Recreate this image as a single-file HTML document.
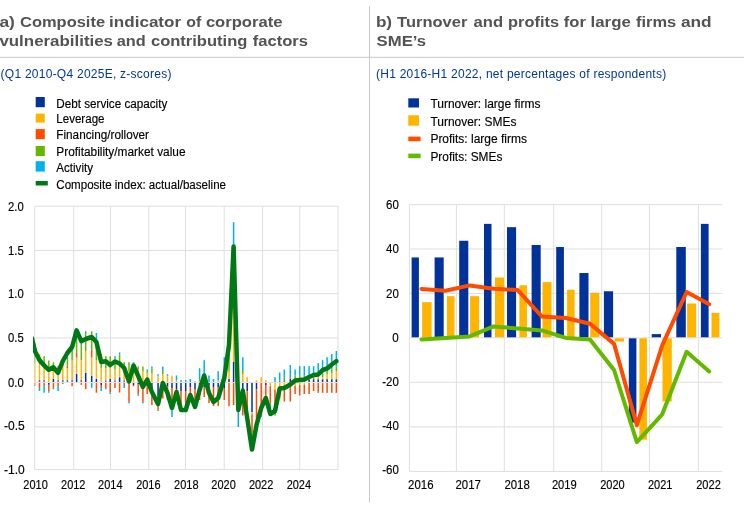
<!DOCTYPE html>
<html lang="en"><head><meta charset="utf-8"><title>Corporate vulnerabilities and firm turnover</title>
<style>
html,body{margin:0;padding:0;background:#fff;}
body{width:744px;height:506px;overflow:hidden;}
svg{display:block;font-family:"Liberation Sans",sans-serif;}
.t{font-weight:bold;font-size:14.8px;fill:#535353;}
.s{font-size:12px;fill:#003894;letter-spacing:0.25px;}
.l{font-size:12px;fill:#000;stroke:#000;stroke-width:0.15px;}
.a{font-size:12px;fill:#000;stroke:#000;stroke-width:0.15px;}
.g{stroke:#dfdfdf;stroke-width:1;fill:none;}
</style></head><body>
<svg width="744" height="506" viewBox="0 0 744 506">
<rect width="744" height="506" fill="#fff"/>
<defs><clipPath id="lc"><rect x="33.1" y="200" width="306" height="275"/></clipPath></defs>
<line x1="0" y1="57.3" x2="744" y2="57.3" stroke="#c8c8c8" stroke-width="1"/>
<line x1="369.5" y1="6" x2="369.5" y2="502.5" stroke="#c8c8c8" stroke-width="1"/>
<text class="t" y="27.2"><tspan x="-0.6" textLength="15.5" lengthAdjust="spacingAndGlyphs">a)</tspan> <tspan x="20" textLength="85.1" lengthAdjust="spacingAndGlyphs">Composite</tspan> <tspan x="109.1" textLength="72" lengthAdjust="spacingAndGlyphs">indicator</tspan> <tspan x="186.2" textLength="15" lengthAdjust="spacingAndGlyphs">of</tspan> <tspan x="205.9" textLength="76.5" lengthAdjust="spacingAndGlyphs">corporate</tspan></text>
<text class="t" y="45.5"><tspan x="-0.6" textLength="113.6" lengthAdjust="spacingAndGlyphs">vulnerabilities</tspan> <tspan x="116.7" textLength="29" lengthAdjust="spacingAndGlyphs">and</tspan> <tspan x="151" textLength="96.3" lengthAdjust="spacingAndGlyphs">contributing</tspan> <tspan x="252.7" textLength="55.3" lengthAdjust="spacingAndGlyphs">factors</tspan></text>
<text class="t" y="27.2"><tspan x="375.9" textLength="16.2" lengthAdjust="spacingAndGlyphs">b)</tspan> <tspan x="397.1" textLength="70.3" lengthAdjust="spacingAndGlyphs">Turnover</tspan> <tspan x="473.6" textLength="29.5" lengthAdjust="spacingAndGlyphs">and</tspan> <tspan x="508.1" textLength="50.9" lengthAdjust="spacingAndGlyphs">profits</tspan> <tspan x="563.8" textLength="22.1" lengthAdjust="spacingAndGlyphs">for</tspan> <tspan x="590.6" textLength="40.2" lengthAdjust="spacingAndGlyphs">large</tspan> <tspan x="636" textLength="40.2" lengthAdjust="spacingAndGlyphs">firms</tspan> <tspan x="680.9" textLength="30.7" lengthAdjust="spacingAndGlyphs">and</tspan></text>
<text class="t" y="45.5"><tspan x="376.6" textLength="49.5" lengthAdjust="spacingAndGlyphs">SME’s</tspan></text>
<text class="s" x="0.6" y="78">(Q1 2010-Q4 2025E, z-scores)</text>
<text class="s" x="376" y="78">(H1 2016-H1 2022, net percentages of respondents)</text>
<rect x="35.7" y="97" width="9.1" height="10.2" fill="#003299"/>
<text class="l" x="56.3" y="107.6" textLength="111" lengthAdjust="spacingAndGlyphs">Debt service capacity</text>
<rect x="35.7" y="113.6" width="9.1" height="9" fill="#FFB400"/>
<text class="l" x="56.3" y="122.8" textLength="48.2" lengthAdjust="spacingAndGlyphs">Leverage</text>
<rect x="35.7" y="129.1" width="9.1" height="10.1" fill="#FF4B00"/>
<text class="l" x="56.3" y="139.2" textLength="92.7" lengthAdjust="spacingAndGlyphs">Financing/rollover</text>
<rect x="35.7" y="146" width="9.1" height="10.1" fill="#65B800"/>
<text class="l" x="56.3" y="156.1" textLength="129.2" lengthAdjust="spacingAndGlyphs">Profitability/market value</text>
<rect x="35.7" y="161.2" width="9.1" height="10.4" fill="#00B1EA"/>
<text class="l" x="56.3" y="171.6" textLength="36.7" lengthAdjust="spacingAndGlyphs">Activity</text>
<rect x="35.7" y="181" width="12.1" height="4.5" fill="#007816"/>
<text class="l" x="56.3" y="188.5" textLength="169.7" lengthAdjust="spacingAndGlyphs">Composite index: actual/baseline</text>
<g class="g">
<line x1="34.5" y1="206.2" x2="338.3" y2="206.2"/>
<line x1="34.5" y1="250.5" x2="338.3" y2="250.5"/>
<line x1="34.5" y1="293.6" x2="338.3" y2="293.6"/>
<line x1="34.5" y1="337.95" x2="338.3" y2="337.95"/>
<line x1="34.5" y1="382.4" x2="338.3" y2="382.4"/>
<line x1="34.5" y1="426.9" x2="338.3" y2="426.9"/>
<line x1="34.5" y1="469.5" x2="338.3" y2="469.5"/>
<line x1="34.7" y1="206.2" x2="34.7" y2="469.5"/>
<line x1="73.7" y1="206.2" x2="73.7" y2="469.5"/>
<line x1="110.5" y1="206.2" x2="110.5" y2="469.5"/>
<line x1="148.8" y1="206.2" x2="148.8" y2="469.5"/>
<line x1="185.5" y1="206.2" x2="185.5" y2="469.5"/>
<line x1="224.2" y1="206.2" x2="224.2" y2="469.5"/>
<line x1="262.6" y1="206.2" x2="262.6" y2="469.5"/>
<line x1="299.8" y1="206.2" x2="299.8" y2="469.5"/>
<line x1="338" y1="206.2" x2="338" y2="469.5"/>
</g>
<g shape-rendering="auto">
<g opacity="0.5">
<rect x="34.15" y="363" width="1.5" height="19" fill="#FFB400"/>
<rect x="34.15" y="353" width="1.5" height="10" fill="#65B800"/>
<rect x="34.15" y="383" width="1.5" height="3" fill="#FF4B00"/>
</g>
<g>
<rect x="38.75" y="380" width="1.5" height="2" fill="#003299" opacity="0.7"/>
<rect x="38.75" y="364" width="1.5" height="16" fill="#FFB400"/>
<rect x="38.75" y="354.5" width="1.5" height="9.5" fill="#65B800"/>
<rect x="38.75" y="383" width="1.5" height="5" fill="#FF4B00"/>
<rect x="38.75" y="388" width="1.5" height="3" fill="#00B1EA"/>
</g>
<g>
<rect x="43.35" y="380" width="1.5" height="2" fill="#003299" opacity="0.7"/>
<rect x="43.35" y="366" width="1.5" height="14" fill="#FFB400"/>
<rect x="43.35" y="356.2" width="1.5" height="9.8" fill="#65B800"/>
<rect x="43.35" y="383" width="1.5" height="3.2" fill="#FF4B00"/>
<rect x="43.35" y="386.2" width="1.5" height="6.5" fill="#00B1EA"/>
</g>
<g>
<rect x="48.05" y="369" width="1.5" height="13" fill="#FFB400"/>
<rect x="48.05" y="360.5" width="1.5" height="8.5" fill="#65B800"/>
<rect x="48.05" y="383" width="1.5" height="1.8" fill="#003299"/>
<rect x="48.05" y="384.8" width="1.5" height="6.5" fill="#FF4B00"/>
<rect x="48.05" y="391.3" width="1.5" height="1.4" fill="#00B1EA"/>
</g>
<g>
<rect x="52.65" y="379" width="1.5" height="3" fill="#003299"/>
<rect x="52.65" y="368" width="1.5" height="11" fill="#FFB400"/>
<rect x="52.65" y="362.2" width="1.5" height="5.8" fill="#65B800"/>
<rect x="52.65" y="383" width="1.5" height="4.8" fill="#FF4B00"/>
<rect x="52.65" y="387.8" width="1.5" height="1.4" fill="#00B1EA"/>
</g>
<g>
<rect x="57.35" y="380" width="1.5" height="2" fill="#003299" opacity="0.7"/>
<rect x="57.35" y="372" width="1.5" height="8" fill="#FFB400"/>
<rect x="57.35" y="366" width="1.5" height="6" fill="#65B800"/>
<rect x="57.35" y="383" width="1.5" height="3.2" fill="#FF4B00"/>
<rect x="57.35" y="386.2" width="1.5" height="4.8" fill="#00B1EA"/>
</g>
<g>
<rect x="62.05" y="380" width="1.5" height="2" fill="#003299" opacity="0.7"/>
<rect x="62.05" y="366" width="1.5" height="14" fill="#FFB400"/>
<rect x="62.05" y="360" width="1.5" height="6" fill="#65B800"/>
<rect x="62.05" y="383" width="1.5" height="1" fill="#FF4B00"/>
</g>
<g>
<rect x="66.65" y="380" width="1.5" height="2" fill="#003299" opacity="0.7"/>
<rect x="66.65" y="368" width="1.5" height="12" fill="#FFB400"/>
<rect x="66.65" y="367" width="1.5" height="1" fill="#FF4B00"/>
<rect x="66.65" y="359" width="1.5" height="8" fill="#65B800"/>
<rect x="66.65" y="357" width="1.5" height="2" fill="#00B1EA"/>
</g>
<g>
<rect x="71.35" y="380" width="1.5" height="2" fill="#003299" opacity="0.7"/>
<rect x="71.35" y="360.5" width="1.5" height="19.5" fill="#FFB400"/>
<rect x="71.35" y="351" width="1.5" height="9.5" fill="#65B800"/>
<rect x="71.35" y="350" width="1.5" height="1" fill="#00B1EA"/>
<rect x="71.35" y="383" width="1.5" height="3.2" fill="#FF4B00"/>
</g>
<g>
<rect x="75.85" y="374" width="1.5" height="8" fill="#003299"/>
<rect x="75.85" y="357.5" width="1.5" height="16.5" fill="#FFB400"/>
<rect x="75.85" y="353" width="1.5" height="4.5" fill="#FF4B00"/>
<rect x="75.85" y="340" width="1.5" height="13" fill="#65B800"/>
<rect x="75.85" y="338" width="1.5" height="2" fill="#00B1EA"/>
</g>
<g>
<rect x="80.55" y="380" width="1.5" height="2" fill="#003299" opacity="0.7"/>
<rect x="80.55" y="360.5" width="1.5" height="19.5" fill="#FFB400"/>
<rect x="80.55" y="345" width="1.5" height="15.5" fill="#65B800"/>
<rect x="80.55" y="343" width="1.5" height="2" fill="#00B1EA"/>
<rect x="80.55" y="383" width="1.5" height="1.8" fill="#FF4B00"/>
</g>
<g>
<rect x="84.95" y="372.8" width="1.5" height="9.2" fill="#003299"/>
<rect x="84.95" y="351" width="1.5" height="21.8" fill="#FFB400"/>
<rect x="84.95" y="333" width="1.5" height="18" fill="#65B800"/>
<rect x="84.95" y="331.2" width="1.5" height="1.8" fill="#00B1EA"/>
<rect x="84.95" y="383" width="1.5" height="6.2" fill="#FF4B00"/>
</g>
<g>
<rect x="90.95" y="375.7" width="1.5" height="6.3" fill="#003299"/>
<rect x="90.95" y="357.5" width="1.5" height="18.2" fill="#FFB400"/>
<rect x="90.95" y="350" width="1.5" height="7.5" fill="#FF4B00"/>
<rect x="90.95" y="331.2" width="1.5" height="18.8" fill="#65B800"/>
<rect x="90.95" y="383" width="1.5" height="4.8" fill="#00B1EA"/>
</g>
<g>
<rect x="95.65" y="379" width="1.5" height="3" fill="#003299"/>
<rect x="95.65" y="360.5" width="1.5" height="18.5" fill="#FFB400"/>
<rect x="95.65" y="339" width="1.5" height="21.5" fill="#65B800"/>
<rect x="95.65" y="333" width="1.5" height="6" fill="#00B1EA"/>
<rect x="95.65" y="383" width="1.5" height="9.7" fill="#FF4B00"/>
</g>
<g>
<rect x="100.45" y="368" width="1.5" height="14" fill="#FFB400"/>
<rect x="100.45" y="354" width="1.5" height="14" fill="#65B800"/>
<rect x="100.45" y="383" width="1.5" height="2" fill="#003299"/>
<rect x="100.45" y="385" width="1.5" height="3" fill="#FF4B00"/>
<rect x="100.45" y="388" width="1.5" height="3" fill="#00B1EA"/>
</g>
<g>
<rect x="105.05" y="380.2" width="1.5" height="1.8" fill="#003299" opacity="0.7"/>
<rect x="105.05" y="368" width="1.5" height="12.2" fill="#FFB400"/>
<rect x="105.05" y="356.2" width="1.5" height="11.8" fill="#65B800"/>
<rect x="105.05" y="383" width="1.5" height="5" fill="#FF4B00"/>
<rect x="105.05" y="388" width="1.5" height="1.3" fill="#00B1EA"/>
</g>
<g>
<rect x="109.45" y="379" width="1.5" height="3" fill="#003299"/>
<rect x="109.45" y="368" width="1.5" height="11" fill="#FFB400"/>
<rect x="109.45" y="356.2" width="1.5" height="11.8" fill="#65B800"/>
<rect x="109.45" y="383" width="1.5" height="9.5" fill="#FF4B00"/>
<rect x="109.45" y="392.5" width="1.5" height="1.5" fill="#00B1EA"/>
</g>
<g>
<rect x="114.25" y="380.2" width="1.5" height="1.8" fill="#003299" opacity="0.7"/>
<rect x="114.25" y="369.5" width="1.5" height="10.7" fill="#FFB400"/>
<rect x="114.25" y="358.5" width="1.5" height="11" fill="#65B800"/>
<rect x="114.25" y="356.2" width="1.5" height="2.3" fill="#00B1EA"/>
<rect x="114.25" y="383" width="1.5" height="5" fill="#FF4B00"/>
</g>
<g>
<rect x="118.85" y="377.2" width="1.5" height="4.8" fill="#003299"/>
<rect x="118.85" y="367" width="1.5" height="10.2" fill="#FFB400"/>
<rect x="118.85" y="354.2" width="1.5" height="12.8" fill="#65B800"/>
<rect x="118.85" y="352.5" width="1.5" height="1.7" fill="#00B1EA"/>
<rect x="118.85" y="383" width="1.5" height="9.5" fill="#FF4B00"/>
</g>
<g>
<rect x="123.45" y="380.2" width="1.5" height="1.8" fill="#003299" opacity="0.7"/>
<rect x="123.45" y="370" width="1.5" height="10.2" fill="#FFB400"/>
<rect x="123.45" y="362.2" width="1.5" height="7.8" fill="#65B800"/>
<rect x="123.45" y="383" width="1.5" height="2" fill="#FF4B00"/>
<rect x="123.45" y="385" width="1.5" height="3" fill="#00B1EA"/>
</g>
<g>
<rect x="128.25" y="371" width="1.5" height="11" fill="#FFB400"/>
<rect x="128.25" y="362.2" width="1.5" height="8.8" fill="#65B800"/>
<rect x="128.25" y="383" width="1.5" height="18.8" fill="#FF4B00"/>
<rect x="128.25" y="401.8" width="1.5" height="1.5" fill="#00B1EA"/>
</g>
<g>
<rect x="132.75" y="370" width="1.5" height="12" fill="#FFB400"/>
<rect x="132.75" y="363.5" width="1.5" height="6.5" fill="#65B800"/>
<rect x="132.75" y="362.2" width="1.5" height="1.3" fill="#00B1EA"/>
<rect x="132.75" y="383" width="1.5" height="2" fill="#003299"/>
<rect x="132.75" y="385" width="1.5" height="1.2" fill="#FF4B00"/>
</g>
<g>
<rect x="137.45" y="369.5" width="1.5" height="12.5" fill="#FFB400"/>
<rect x="137.45" y="366.5" width="1.5" height="3" fill="#65B800"/>
<rect x="137.45" y="383" width="1.5" height="1.5" fill="#003299"/>
<rect x="137.45" y="384.5" width="1.5" height="9.7" fill="#FF4B00"/>
<rect x="137.45" y="394.2" width="1.5" height="1.6" fill="#00B1EA"/>
</g>
<g>
<rect x="142.15" y="371" width="1.5" height="11" fill="#FFB400"/>
<rect x="142.15" y="366.5" width="1.5" height="4.5" fill="#65B800"/>
<rect x="142.15" y="383" width="1.5" height="18.8" fill="#FF4B00"/>
<rect x="142.15" y="401.8" width="1.5" height="1.5" fill="#00B1EA"/>
</g>
<g>
<rect x="146.45" y="373" width="1.5" height="9" fill="#FFB400"/>
<rect x="146.45" y="371.5" width="1.5" height="1.5" fill="#65B800"/>
<rect x="146.45" y="369.5" width="1.5" height="2" fill="#00B1EA"/>
<rect x="146.45" y="383" width="1.5" height="3" fill="#003299"/>
<rect x="146.45" y="386" width="1.5" height="8" fill="#FF4B00"/>
</g>
<g>
<rect x="151.15" y="373" width="1.5" height="9" fill="#FFB400"/>
<rect x="151.15" y="368.5" width="1.5" height="4.5" fill="#65B800"/>
<rect x="151.15" y="366.5" width="1.5" height="2" fill="#00B1EA"/>
<rect x="151.15" y="383" width="1.5" height="11" fill="#003299"/>
<rect x="151.15" y="394" width="1.5" height="11" fill="#FF4B00"/>
</g>
<g>
<rect x="157.3" y="375.8" width="1.5" height="6.2" fill="#FFB400"/>
<rect x="157.3" y="374.2" width="1.5" height="1.6" fill="#00B1EA"/>
<rect x="157.3" y="383" width="1.5" height="13" fill="#003299"/>
<rect x="157.3" y="396" width="1.5" height="13" fill="#FF4B00"/>
<rect x="157.3" y="409" width="1.5" height="2" fill="#65B800"/>
</g>
<g>
<rect x="162.05" y="374" width="1.5" height="8" fill="#FFB400"/>
<rect x="162.05" y="371" width="1.5" height="3" fill="#65B800"/>
<rect x="162.05" y="366.5" width="1.5" height="4.5" fill="#00B1EA"/>
<rect x="162.05" y="383" width="1.5" height="3" fill="#003299"/>
<rect x="162.05" y="386" width="1.5" height="12.5" fill="#FF4B00"/>
</g>
<g>
<rect x="166.75" y="375.8" width="1.5" height="6.2" fill="#FFB400"/>
<rect x="166.75" y="374.2" width="1.5" height="1.6" fill="#00B1EA"/>
<rect x="166.75" y="383" width="1.5" height="3.2" fill="#003299"/>
<rect x="166.75" y="386.2" width="1.5" height="13.8" fill="#FF4B00"/>
</g>
<g>
<rect x="171.25" y="375.5" width="1.5" height="6.5" fill="#FFB400"/>
<rect x="171.25" y="383" width="1.5" height="5" fill="#003299"/>
<rect x="171.25" y="388" width="1.5" height="22.3" fill="#FF4B00"/>
<rect x="171.25" y="410.3" width="1.5" height="6.7" fill="#00B1EA"/>
</g>
<g>
<rect x="175.75" y="380.5" width="1.5" height="1.5" fill="#FFB400"/>
<rect x="175.75" y="375.5" width="1.5" height="5" fill="#00B1EA"/>
<rect x="175.75" y="383" width="1.5" height="6" fill="#003299"/>
<rect x="175.75" y="389" width="1.5" height="11" fill="#FF4B00"/>
</g>
<g>
<rect x="180.25" y="381" width="1.5" height="1" fill="#65B800"/>
<rect x="180.25" y="380" width="1.5" height="1" fill="#00B1EA"/>
<rect x="180.25" y="383" width="1.5" height="8" fill="#003299"/>
<rect x="180.25" y="391" width="1.5" height="17" fill="#FF4B00"/>
</g>
<g>
<rect x="184.95" y="381" width="1.5" height="1" fill="#65B800"/>
<rect x="184.95" y="380" width="1.5" height="1" fill="#00B1EA"/>
<rect x="184.95" y="383" width="1.5" height="8" fill="#003299"/>
<rect x="184.95" y="391" width="1.5" height="17" fill="#FF4B00"/>
</g>
<g>
<rect x="189.55" y="379" width="1.5" height="3" fill="#00B1EA"/>
<rect x="189.55" y="383" width="1.5" height="4.5" fill="#003299"/>
<rect x="189.55" y="387.5" width="1.5" height="8.5" fill="#FF4B00"/>
</g>
<g>
<rect x="194.25" y="381.5" width="1.5" height="0.5" fill="#00B1EA"/>
<rect x="194.25" y="383" width="1.5" height="6" fill="#003299"/>
<rect x="194.25" y="389" width="1.5" height="14" fill="#FF4B00"/>
</g>
<g>
<rect x="198.85" y="381" width="1.5" height="1" fill="#FFB400"/>
<rect x="198.85" y="379" width="1.5" height="2" fill="#65B800"/>
<rect x="198.85" y="368.2" width="1.5" height="10.8" fill="#00B1EA"/>
<rect x="198.85" y="383" width="1.5" height="4" fill="#003299"/>
<rect x="198.85" y="387" width="1.5" height="13" fill="#FF4B00"/>
</g>
<g>
<rect x="203.45" y="360.2" width="1.5" height="21.8" fill="#00B1EA"/>
<rect x="203.45" y="383" width="1.5" height="4.5" fill="#003299"/>
<rect x="203.45" y="387.5" width="1.5" height="9.5" fill="#FF4B00"/>
</g>
<g>
<rect x="208.25" y="375.5" width="1.5" height="6.5" fill="#00B1EA"/>
<rect x="208.25" y="383" width="1.5" height="2" fill="#003299"/>
<rect x="208.25" y="385" width="1.5" height="18" fill="#FF4B00"/>
</g>
<g>
<rect x="212.75" y="379" width="1.5" height="3" fill="#00B1EA"/>
<rect x="212.75" y="383" width="1.5" height="4.5" fill="#003299"/>
<rect x="212.75" y="387.5" width="1.5" height="18.5" fill="#FF4B00"/>
</g>
<g>
<rect x="217.45" y="380.5" width="1.5" height="1.5" fill="#FFB400"/>
<rect x="217.45" y="371.2" width="1.5" height="9.3" fill="#00B1EA"/>
<rect x="217.45" y="383" width="1.5" height="4.5" fill="#003299"/>
<rect x="217.45" y="387.5" width="1.5" height="17.5" fill="#FF4B00"/>
<rect x="217.45" y="405" width="1.5" height="1.2" fill="#65B800"/>
</g>
<g>
<rect x="223.55" y="380.5" width="1.5" height="1.5" fill="#FFB400"/>
<rect x="223.55" y="357.2" width="1.5" height="23.3" fill="#00B1EA"/>
<rect x="223.55" y="383" width="1.5" height="5" fill="#003299"/>
<rect x="223.55" y="388" width="1.5" height="12" fill="#FF4B00"/>
</g>
<g>
<rect x="228.25" y="379" width="1.5" height="3" fill="#003299"/>
<rect x="228.25" y="371" width="1.5" height="8" fill="#FFB400"/>
<rect x="228.25" y="356" width="1.5" height="15" fill="#65B800"/>
<rect x="228.25" y="352" width="1.5" height="4" fill="#00B1EA"/>
<rect x="228.25" y="383" width="1.5" height="23.2" fill="#FF4B00"/>
</g>
<g>
<rect x="232.85" y="362" width="1.5" height="20" fill="#003299"/>
<rect x="232.85" y="300" width="1.5" height="62" fill="#FFB400"/>
<rect x="232.85" y="270" width="1.5" height="30" fill="#65B800"/>
<rect x="232.85" y="222.2" width="1.5" height="47.8" fill="#00B1EA"/>
<rect x="232.85" y="383" width="1.5" height="22" fill="#FF4B00"/>
</g>
<g>
<rect x="237.55" y="370" width="1.5" height="12" fill="#FFB400"/>
<rect x="237.55" y="383" width="1.5" height="7" fill="#003299"/>
<rect x="237.55" y="390" width="1.5" height="20" fill="#FF4B00"/>
<rect x="237.55" y="410" width="1.5" height="17" fill="#00B1EA"/>
</g>
<g>
<rect x="242.05" y="374.2" width="1.5" height="7.8" fill="#FFB400"/>
<rect x="242.05" y="370" width="1.5" height="4.2" fill="#65B800"/>
<rect x="242.05" y="357.2" width="1.5" height="12.8" fill="#00B1EA"/>
<rect x="242.05" y="383" width="1.5" height="6" fill="#003299"/>
<rect x="242.05" y="389" width="1.5" height="26.5" fill="#FF4B00"/>
</g>
<g>
<rect x="246.45" y="377.2" width="1.5" height="4.8" fill="#FFB400"/>
<rect x="246.45" y="383" width="1.5" height="8.2" fill="#003299"/>
<rect x="246.45" y="391.2" width="1.5" height="28.8" fill="#FF4B00"/>
</g>
<g>
<rect x="251.25" y="383" width="1.5" height="29.2" fill="#003299"/>
<rect x="251.25" y="412.2" width="1.5" height="2" fill="#FFB400"/>
<rect x="251.25" y="414.2" width="1.5" height="17.8" fill="#FF4B00"/>
<rect x="251.25" y="432" width="1.5" height="3" fill="#65B800"/>
</g>
<g>
<rect x="255.75" y="380.2" width="1.5" height="1.8" fill="#FFB400"/>
<rect x="255.75" y="383" width="1.5" height="6.5" fill="#003299"/>
<rect x="255.75" y="389.5" width="1.5" height="28.5" fill="#FF4B00"/>
<rect x="255.75" y="418" width="1.5" height="3" fill="#00B1EA"/>
</g>
<g>
<rect x="260.45" y="377.2" width="1.5" height="4.8" fill="#FFB400"/>
<rect x="260.45" y="383" width="1.5" height="32" fill="#FF4B00"/>
<rect x="260.45" y="415" width="1.5" height="2" fill="#00B1EA"/>
</g>
<g>
<rect x="265.05" y="380.2" width="1.5" height="1.8" fill="#FFB400"/>
<rect x="265.05" y="383" width="1.5" height="2" fill="#003299"/>
<rect x="265.05" y="385" width="1.5" height="15" fill="#FF4B00"/>
</g>
<g>
<rect x="269.55" y="383" width="1.5" height="3.2" fill="#FFB400"/>
<rect x="269.55" y="386.2" width="1.5" height="16.8" fill="#FF4B00"/>
<rect x="269.55" y="403" width="1.5" height="2" fill="#65B800"/>
<rect x="269.55" y="405" width="1.5" height="3" fill="#00B1EA"/>
</g>
<g>
<rect x="274.25" y="377.2" width="1.5" height="4.8" fill="#00B1EA"/>
<rect x="274.25" y="383" width="1.5" height="6.5" fill="#FFB400"/>
<rect x="274.25" y="389.5" width="1.5" height="24.5" fill="#FF4B00"/>
<rect x="274.25" y="414" width="1.5" height="1.5" fill="#65B800"/>
</g>
<g>
<rect x="278.95" y="381" width="1.5" height="1" fill="#003299" opacity="0.7"/>
<rect x="278.95" y="380.2" width="1.5" height="0.8" fill="#65B800"/>
<rect x="278.95" y="372.5" width="1.5" height="7.7" fill="#00B1EA"/>
<rect x="278.95" y="383" width="1.5" height="3.2" fill="#FFB400"/>
<rect x="278.95" y="386.2" width="1.5" height="12.3" fill="#FF4B00"/>
</g>
<g>
<rect x="283.55" y="380.2" width="1.5" height="1.8" fill="#003299" opacity="0.7"/>
<rect x="283.55" y="377.2" width="1.5" height="3" fill="#65B800"/>
<rect x="283.55" y="369.5" width="1.5" height="7.7" fill="#00B1EA"/>
<rect x="283.55" y="383" width="1.5" height="3.2" fill="#FFB400"/>
<rect x="283.55" y="386.2" width="1.5" height="15.3" fill="#FF4B00"/>
</g>
<g>
<rect x="289.55" y="379" width="1.5" height="3" fill="#003299"/>
<rect x="289.55" y="377.2" width="1.5" height="1.8" fill="#65B800"/>
<rect x="289.55" y="365" width="1.5" height="12.2" fill="#00B1EA"/>
<rect x="289.55" y="383" width="1.5" height="18.5" fill="#FF4B00"/>
</g>
<g>
<rect x="294.35" y="380" width="1.5" height="2" fill="#003299" opacity="0.7"/>
<rect x="294.35" y="375.6" width="1.5" height="4.4" fill="#65B800"/>
<rect x="294.35" y="369.5" width="1.5" height="6.1" fill="#00B1EA"/>
<rect x="294.35" y="383" width="1.5" height="3" fill="#FFB400"/>
<rect x="294.35" y="386" width="1.5" height="8" fill="#FF4B00"/>
</g>
<g>
<rect x="298.95" y="380" width="1.5" height="2" fill="#003299" opacity="0.7"/>
<rect x="298.95" y="375.7" width="1.5" height="4.3" fill="#65B800"/>
<rect x="298.95" y="366.2" width="1.5" height="9.5" fill="#00B1EA"/>
<rect x="298.95" y="383" width="1.5" height="2" fill="#FFB400"/>
<rect x="298.95" y="385" width="1.5" height="10.5" fill="#FF4B00"/>
</g>
<g>
<rect x="303.55" y="380" width="1.5" height="2" fill="#003299" opacity="0.7"/>
<rect x="303.55" y="375.5" width="1.5" height="4.5" fill="#65B800"/>
<rect x="303.55" y="366.2" width="1.5" height="9.3" fill="#00B1EA"/>
<rect x="303.55" y="383" width="1.5" height="2" fill="#FFB400"/>
<rect x="303.55" y="385" width="1.5" height="9" fill="#FF4B00"/>
</g>
<g>
<rect x="308.35" y="379.5" width="1.5" height="2.5" fill="#003299"/>
<rect x="308.35" y="375" width="1.5" height="4.5" fill="#65B800"/>
<rect x="308.35" y="366.2" width="1.5" height="8.8" fill="#00B1EA"/>
<rect x="308.35" y="383" width="1.5" height="11" fill="#FF4B00"/>
</g>
<g>
<rect x="312.85" y="379.2" width="1.5" height="2.8" fill="#003299"/>
<rect x="312.85" y="373" width="1.5" height="6.2" fill="#65B800"/>
<rect x="312.85" y="366.2" width="1.5" height="6.8" fill="#00B1EA"/>
<rect x="312.85" y="383" width="1.5" height="8" fill="#FF4B00"/>
</g>
<g>
<rect x="317.45" y="379.2" width="1.5" height="2.8" fill="#003299"/>
<rect x="317.45" y="377.2" width="1.5" height="2" fill="#FFB400"/>
<rect x="317.45" y="373" width="1.5" height="4.2" fill="#65B800"/>
<rect x="317.45" y="363.2" width="1.5" height="9.8" fill="#00B1EA"/>
<rect x="317.45" y="383" width="1.5" height="9.8" fill="#FF4B00"/>
</g>
<g>
<rect x="321.85" y="379.2" width="1.5" height="2.8" fill="#003299"/>
<rect x="321.85" y="377.2" width="1.5" height="2" fill="#FFB400"/>
<rect x="321.85" y="373" width="1.5" height="4.2" fill="#65B800"/>
<rect x="321.85" y="360.2" width="1.5" height="12.8" fill="#00B1EA"/>
<rect x="321.85" y="383" width="1.5" height="9.8" fill="#FF4B00"/>
</g>
<g>
<rect x="326.35" y="379.2" width="1.5" height="2.8" fill="#003299"/>
<rect x="326.35" y="374" width="1.5" height="5.2" fill="#FFB400"/>
<rect x="326.35" y="371" width="1.5" height="3" fill="#65B800"/>
<rect x="326.35" y="357.2" width="1.5" height="13.8" fill="#00B1EA"/>
<rect x="326.35" y="383" width="1.5" height="9.8" fill="#FF4B00"/>
</g>
<g>
<rect x="331.05" y="379.2" width="1.5" height="2.8" fill="#003299"/>
<rect x="331.05" y="373" width="1.5" height="6.2" fill="#FFB400"/>
<rect x="331.05" y="369.5" width="1.5" height="3.5" fill="#65B800"/>
<rect x="331.05" y="354" width="1.5" height="15.5" fill="#00B1EA"/>
<rect x="331.05" y="383" width="1.5" height="9.8" fill="#FF4B00"/>
</g>
<g>
<rect x="335.6" y="379.2" width="1.5" height="2.8" fill="#003299"/>
<rect x="335.6" y="371.2" width="1.5" height="8" fill="#FFB400"/>
<rect x="335.6" y="366.5" width="1.5" height="4.7" fill="#65B800"/>
<rect x="335.6" y="351" width="1.5" height="15.5" fill="#00B1EA"/>
<rect x="335.6" y="383" width="1.5" height="9.8" fill="#FF4B00"/>
</g>
</g>
<polyline points="32,338.3 35,351.3 39.4,360 44,365.3 48.8,369.8 53.3,367.3 58,372.8 62.8,361 67.4,353 72.1,347 76.6,330.3 81.3,341.2 85.7,339 91.7,337 96.4,342 101.2,362 105.8,361.3 110.2,365 115,361.5 119.6,363.5 124.2,368 129,381.5 133.5,365.5 138.2,376 142.9,387 147.2,379.5 151.9,392 158.05,404 162.8,383 167.5,393 172,408 176.5,392 181,410 185.7,410 190.3,395 195,407 199.6,390 204.2,375.5 209,393 213.5,402 218.2,398 224.3,378 229,345 233.6,246.5 238.3,410 242.8,390.5 247.2,418 252,449.6 256.5,425 261.2,408 265.8,398 270.3,414 275,411 279.7,388.5 284.3,388 290.3,384.5 295.1,380.5 299.7,380 304.3,379.5 309.1,377 313.6,375 318.2,374.5 322.6,370 327.1,368.5 331.8,364.5 336.3,361.2" fill="none" stroke="#007816" stroke-width="4.5" clip-path="url(#lc)" stroke-linejoin="round" stroke-linecap="round"/>
<text class="a" x="8" y="210.7" textLength="15.7" lengthAdjust="spacingAndGlyphs">2.0</text>
<text class="a" x="8" y="254.8" textLength="15.7" lengthAdjust="spacingAndGlyphs">1.5</text>
<text class="a" x="8" y="297.9" textLength="15.7" lengthAdjust="spacingAndGlyphs">1.0</text>
<text class="a" x="8" y="341.5" textLength="15.7" lengthAdjust="spacingAndGlyphs">0.5</text>
<text class="a" x="8" y="386.7" textLength="15.7" lengthAdjust="spacingAndGlyphs">0.0</text>
<text class="a" x="4" y="430" textLength="20.7" lengthAdjust="spacingAndGlyphs">-0.5</text>
<text class="a" x="4" y="473.8" textLength="20.7" lengthAdjust="spacingAndGlyphs">-1.0</text>
<text class="a" x="23.35" y="489" textLength="24.4" lengthAdjust="spacingAndGlyphs">2010</text>
<text class="a" x="61.05" y="489" textLength="24.4" lengthAdjust="spacingAndGlyphs">2012</text>
<text class="a" x="98.1" y="489" textLength="24.4" lengthAdjust="spacingAndGlyphs">2014</text>
<text class="a" x="136.15" y="489" textLength="24.4" lengthAdjust="spacingAndGlyphs">2016</text>
<text class="a" x="174.1" y="489" textLength="24.4" lengthAdjust="spacingAndGlyphs">2018</text>
<text class="a" x="211.35" y="489" textLength="24.4" lengthAdjust="spacingAndGlyphs">2020</text>
<text class="a" x="248.9" y="489" textLength="24.4" lengthAdjust="spacingAndGlyphs">2022</text>
<text class="a" x="286.65" y="489" textLength="24.4" lengthAdjust="spacingAndGlyphs">2024</text>
<g class="g">
<line x1="409.4" y1="204.6" x2="722.2" y2="204.6"/>
<line x1="409.4" y1="249" x2="722.2" y2="249"/>
<line x1="409.4" y1="293.4" x2="722.2" y2="293.4"/>
<line x1="409.4" y1="337.8" x2="722.2" y2="337.8"/>
<line x1="409.4" y1="382.3" x2="722.2" y2="382.3"/>
<line x1="409.4" y1="426.9" x2="722.2" y2="426.9"/>
<line x1="409.4" y1="471.4" x2="722.2" y2="471.4"/>
<line x1="409.4" y1="204.6" x2="409.4" y2="471.4"/>
<line x1="456.4" y1="204.6" x2="456.4" y2="471.4"/>
<line x1="504.3" y1="204.6" x2="504.3" y2="471.4"/>
<line x1="553.7" y1="204.6" x2="553.7" y2="471.4"/>
<line x1="601.7" y1="204.6" x2="601.7" y2="471.4"/>
<line x1="649.4" y1="204.6" x2="649.4" y2="471.4"/>
<line x1="698.4" y1="204.6" x2="698.4" y2="471.4"/>
</g>
<rect x="411.6" y="257.45" width="7.3" height="79.85" fill="#003299"/>
<rect x="434.6" y="257.45" width="9.1" height="79.85" fill="#003299"/>
<rect x="459.2" y="240.77" width="9.1" height="96.53" fill="#003299"/>
<rect x="484" y="223.86" width="7.5" height="113.44" fill="#003299"/>
<rect x="507" y="227.19" width="9.1" height="110.11" fill="#003299"/>
<rect x="531.6" y="245" width="9.1" height="92.31" fill="#003299"/>
<rect x="556.2" y="247" width="7.7" height="90.3" fill="#003299"/>
<rect x="579.4" y="273.03" width="9.1" height="64.27" fill="#003299"/>
<rect x="603.9" y="291.27" width="9.2" height="46.03" fill="#003299"/>
<rect x="628.8" y="338.3" width="7.6" height="84.25" fill="#003299"/>
<rect x="651.7" y="334.11" width="9.3" height="3.19" fill="#003299"/>
<rect x="676.3" y="247" width="9.5" height="90.3" fill="#003299"/>
<rect x="700.9" y="223.86" width="7.7" height="113.44" fill="#003299"/>
<rect x="422.1" y="302.18" width="9.5" height="35.12" fill="#FFB400"/>
<rect x="447" y="296.17" width="7.5" height="41.13" fill="#FFB400"/>
<rect x="470.1" y="296.17" width="9" height="41.13" fill="#FFB400"/>
<rect x="495" y="277.48" width="9" height="59.82" fill="#FFB400"/>
<rect x="519.4" y="285.27" width="7.5" height="52.03" fill="#FFB400"/>
<rect x="542.5" y="282.15" width="9" height="55.15" fill="#FFB400"/>
<rect x="567.1" y="289.72" width="7.5" height="47.58" fill="#FFB400"/>
<rect x="590.2" y="292.83" width="9.1" height="44.47" fill="#FFB400"/>
<rect x="614.8" y="338.3" width="9.2" height="3.26" fill="#FFB400"/>
<rect x="639.4" y="338.3" width="7.5" height="101.38" fill="#FFB400"/>
<rect x="662.5" y="338.3" width="9.3" height="63.11" fill="#FFB400"/>
<rect x="687.1" y="303.51" width="9" height="33.79" fill="#FFB400"/>
<rect x="711.5" y="312.86" width="7.9" height="24.44" fill="#FFB400"/>
<polyline points="421.44,289 445.52,290.7 469.6,285.4 493.68,288.7 517.76,290.1 541.84,316.5 565.92,318 590,323.7 614.08,343.9 636.86,425.2 662.24,345.4 686.62,292 709.2,304.2" fill="none" stroke="#FF4B00" stroke-width="4" stroke-linejoin="round" stroke-linecap="round"/>
<polyline points="421.44,339.4 445.52,337.9 469.6,336.4 493.68,326.4 517.76,328.5 541.84,330.4 565.92,337.9 590,339.4 614.08,370 636.86,442.2 662.24,414.3 686.62,351.8 709.2,371.4" fill="none" stroke="#65B800" stroke-width="4" stroke-linejoin="round" stroke-linecap="round"/>
<text class="a" x="386" y="208.9" textLength="12.8" lengthAdjust="spacingAndGlyphs">60</text>
<text class="a" x="386" y="253.2" textLength="12.8" lengthAdjust="spacingAndGlyphs">40</text>
<text class="a" x="386" y="297.5" textLength="12.8" lengthAdjust="spacingAndGlyphs">20</text>
<text class="a" x="392.3" y="341.8" textLength="6.5" lengthAdjust="spacingAndGlyphs">0</text>
<text class="a" x="382.2" y="385.7" textLength="16.6" lengthAdjust="spacingAndGlyphs">-20</text>
<text class="a" x="382.2" y="430.1" textLength="16.6" lengthAdjust="spacingAndGlyphs">-40</text>
<text class="a" x="382.2" y="474.2" textLength="16.6" lengthAdjust="spacingAndGlyphs">-60</text>
<text class="a" x="408.1" y="489" textLength="25.4" lengthAdjust="spacingAndGlyphs">2016</text>
<text class="a" x="455.5" y="489" textLength="25.4" lengthAdjust="spacingAndGlyphs">2017</text>
<text class="a" x="504.4" y="489" textLength="25.4" lengthAdjust="spacingAndGlyphs">2018</text>
<text class="a" x="551.9" y="489" textLength="24.8" lengthAdjust="spacingAndGlyphs">2019</text>
<text class="a" x="600.2" y="489" textLength="24.5" lengthAdjust="spacingAndGlyphs">2020</text>
<text class="a" x="648" y="489" textLength="24.5" lengthAdjust="spacingAndGlyphs">2021</text>
<text class="a" x="696.2" y="489" textLength="24.6" lengthAdjust="spacingAndGlyphs">2022</text>
<rect x="408.3" y="98.3" width="10.7" height="9.2" fill="#003299"/>
<rect x="408.3" y="115.3" width="10.7" height="10.4" fill="#FFB400"/>
<rect x="408.3" y="136.6" width="12.3" height="4.6" fill="#FF4B00"/>
<rect x="408.3" y="153.6" width="12.3" height="4.6" fill="#65B800"/>
<text class="l" x="430.4" y="107.6" textLength="110" lengthAdjust="spacingAndGlyphs">Turnover: large firms</text>
<text class="l" x="430.4" y="125.7" textLength="86" lengthAdjust="spacingAndGlyphs">Turnover: SMEs</text>
<text class="l" x="430.4" y="142.5" textLength="96.5" lengthAdjust="spacingAndGlyphs">Profits: large firms</text>
<text class="l" x="430.4" y="160.9" textLength="72" lengthAdjust="spacingAndGlyphs">Profits: SMEs</text>
</svg></body></html>
